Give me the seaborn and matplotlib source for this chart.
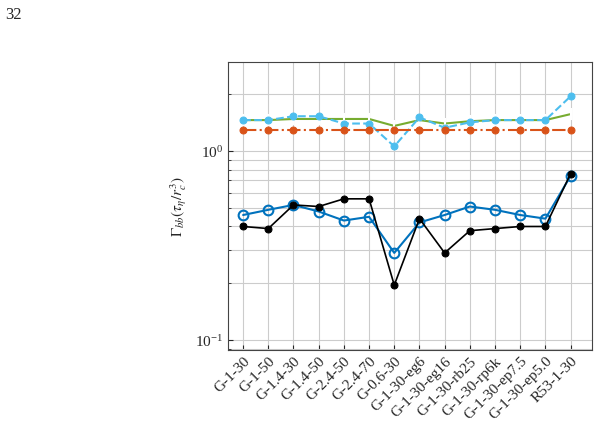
import matplotlib
matplotlib.use("Agg")
import matplotlib.pyplot as plt
import seaborn as sns
import pandas as pd

cats = ["G-1-30","G-1-50","G-1.4-30","G-1.4-50","G-2.4-50","G-2.4-70","G-0.6-30",
        "G-1-30-eg6","G-1-30-eg16","G-1-30-rb25","G-1-30-rp6k","G-1-30-ep7.5","G-1-30-ep5.0","R53-1-30"]
green = [1.46,1.46,1.48,1.48,1.48,1.48,1.36,1.46,1.40,1.44,1.46,1.46,1.46,1.57]
cyan = [1.46,1.46,1.53,1.53,1.40,1.40,1.06,1.51,1.33,1.42,1.46,1.46,1.46,1.95]
red = [1.29]*14
blue = [0.46,0.49,0.52,0.48,0.43,0.45,0.29,0.42,0.46,0.51,0.49,0.46,0.44,0.74]
black = [0.40,0.39,0.52,0.51,0.56,0.56,0.196,0.44,0.29,0.38,0.39,0.40,0.40,0.76]

sns.set_style("ticks")
plt.rcParams['font.family'] = ['Liberation Serif', 'DejaVu Serif']
plt.rcParams['mathtext.fontset'] = 'stix'

fig = plt.figure(figsize=(5.99, 4.29), dpi=100)
ax = fig.add_axes([228/599, 1-350/429, 364/599, 288/429])
x = list(range(len(cats)))
df = pd.DataFrame({"x": x, "green": green, "cyan": cyan, "red": red, "blue": blue, "black": black})

sns.lineplot(data=df, x="x", y="green", ax=ax, color="#77ac30", marker="|", markersize=8, mew=1.5, lw=1.5)
sns.lineplot(data=df, x="x", y="cyan", ax=ax, color="#4dbeee", marker="o", markersize=5, mec="#4dbeee", ls="--", lw=1.5)
sns.lineplot(data=df, x="x", y="red", ax=ax, color="#d95319", marker="o", markersize=5, mec="#d95319", ls="-.", lw=1.5)
sns.lineplot(data=df, x="x", y="blue", ax=ax, color="#0072bd", marker="o", markersize=7, mfc="none", mec="#0072bd", mew=1.5, lw=1.5)
sns.lineplot(data=df, x="x", y="black", ax=ax, color="black", marker="o", markersize=5, mec="black", lw=1.2)

ax.set_yscale("log")
ax.set_ylim(0.089, 2.96)
ax.set_xlim(-0.6, 13.85)
ax.set_xticks(x)
ax.set_xticklabels(cats, rotation=45, ha="right", rotation_mode="anchor", fontsize=11)
ax.tick_params(axis="y", labelsize=11, which="both", direction="in")
ax.tick_params(axis="x", direction="in")
ax.grid(True, which="both", color="#cccccc", lw=0.8)
ax.set_xlabel("")
ax.set_ylabel(r"$\Gamma_{bb}(\tau_\eta/r_c^3)$", fontsize=11)
for s in ax.spines.values():
    s.set_color("#444444")
fig.text(5/599, 1-15/429, "32", fontsize=12, va="center")
fig.savefig("out.png", dpi=100)
